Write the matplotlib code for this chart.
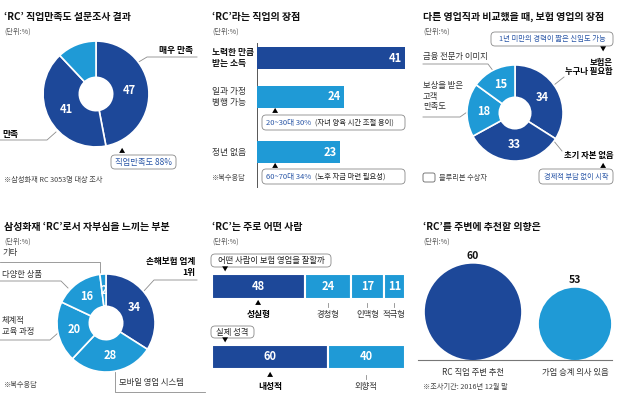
import numpy as np
import matplotlib
matplotlib.use('Agg')
import matplotlib.pyplot as plt
from matplotlib.patches import FancyBboxPatch, Circle

plt.rcParams['font.family'] = ['Noto Sans CJK KR', 'DejaVu Sans']

DARK = '#1d4899'
LIGHT = '#1f9ad6'
BLUE_TXT = '#2b57a7'
LINE = '#8c8c8c'

# 직업만족도
sat_values = [47, 41, 12]
# 직업의 장점
merit_labels = ['노력한 만큼\n받는 소득', '일과 가정\n병행 가능', '정년 없음']
merit_values = [41, 24, 23]
# 보험 영업의 장점
ins_labels = ['보험은\n누구나 필요함', '초기 자본 없음', '보상을 받은\n고객\n만족도', '금융 전문가 이미지']
ins_values = [34, 33, 18, 15]
# 자부심
pride_labels = ['손해보험 업계\n1위', '모바일 영업 시스템', '체계적\n교육 과정', '다양한 상품', '기타']
pride_values = [34, 28, 20, 16, 2]
# 어떤 사람
type_labels = ['성실형', '경청형', '인맥형', '적극형']
type_values = [48, 24, 17, 11]
pers_labels = ['내성적', '외향적']
pers_values = [60, 40]
# 추천 의향
rec_labels = ['RC 직업 주변 추천', '가업 승계 의사 있음']
rec_values = [60, 53]

W, H = 620, 400
fig = plt.figure(figsize=(6.2, 4.0), dpi=100)
bg = fig.add_axes([0, 0, 1, 1])
bg.set_xlim(0, W)
bg.set_ylim(H, 0)
bg.axis('off')


def px_axes(x0, y0, w, h):
    ax = fig.add_axes([x0 / W, 1 - (y0 + h) / H, w / W, h / H])
    ax.axis('off')
    return ax


def txt(x, y, s, size=6, **kw):
    kw.setdefault('va', 'center')
    bg.text(x, y, s, fontsize=size, **kw)


def leader(pts):
    xs, ys = zip(*pts)
    bg.plot(xs, ys, color=LINE, lw=0.6)


def rbox(x0, y0, w, h):
    bg.add_patch(FancyBboxPatch((x0, y0), w, h, boxstyle='round,pad=0,rounding_size=4',
                                fc='white', ec='#8a8a8a', lw=0.6))


def title(x, y, s):
    txt(x, y, s, size=7.2, fontweight='bold', color='#111111')
    txt(x, y + 15, '(단위:%)', size=5.2, color='#555555')


def donut(cx, cy, r, rin, values, colors, show, dist):
    ax = px_axes(cx - r, cy - r, 2 * r, 2 * r)
    wedges, _ = ax.pie(values, colors=colors, startangle=90, counterclock=False,
                       wedgeprops=dict(width=(r - rin) / r, edgecolor='white', linewidth=1.2))
    ax.set_xlim(-1.02, 1.02)
    ax.set_ylim(-1.02, 1.02)
    for w, v, s in zip(wedges, values, show):
        if not s:
            continue
        a = np.deg2rad((w.theta1 + w.theta2) / 2)
        ax.text(dist * np.cos(a), dist * np.sin(a), str(v), color='white', fontsize=8,
                fontweight='bold', ha='center', va='center')
    return ax


# ---------- 1. 직업만족도 ----------
title(4, 17, '‘RC’ 직업만족도 설문조사 결과')
donut(96, 94, 54, 17, sat_values, [DARK, DARK, LIGHT], [True, True, False], 0.63)
leader([(137, 63), (147, 57), (197, 57)])
txt(193, 51, '매우 만족', size=6.3, fontweight='bold', ha='right')
leader([(56, 132), (47, 140), (0, 140)])
txt(2, 134, '만족', size=6.3, fontweight='bold')
txt(122, 151, '▲', size=4.5, ha='center')
rbox(111, 155, 65, 14)
txt(143.5, 162, '직업만족도 88%', size=6, color=BLUE_TXT, ha='center')
txt(4, 180, '※삼성화재 RC 3053명 대상 조사', size=5.2, color='#444444')

# ---------- 2. 직업의 장점 ----------
title(212, 17, '‘RC’라는 직업의 장점')
bar_rows = [58, 97, 152]
ax2 = px_axes(257, 40, 148, 150)
ax2.set_xlim(0, max(merit_values))
ax2.set_ylim(190, 40)
ax2.barh(bar_rows, merit_values, height=22, color=[DARK, LIGHT, LIGHT])
for row, v in zip(bar_rows, merit_values):
    ax2.text(v - 0.8, row, str(v), ha='right', va='center', color='white',
             fontsize=8, fontweight='bold')
bg.plot([257, 257], [43, 187], color='#555555', lw=0.7)
for row, lab, bold in zip(bar_rows, merit_labels, [True, False, False]):
    txt(212, row, lab, size=6.3, fontweight='bold' if bold else 'normal',
        linespacing=1.15, color='#111111' if bold else '#333333')
txt(275, 111, '▲', size=4.5, ha='center')
rbox(262, 115, 143, 15)
txt(266, 122.5, '20~30대 30%', size=5.5, color=BLUE_TXT)
txt(315, 122.5, '(자녀 양육 시간 조절 용이)', size=5.3, color='#222222')
txt(275, 166, '▲', size=4.5, ha='center')
rbox(262, 169, 143, 15)
txt(266, 176.5, '60~70대 34%', size=5.5, color=BLUE_TXT)
txt(315, 176.5, '(노후 자금 마련 필요성)', size=5.3, color='#222222')
txt(212, 178, '※복수응답', size=5.2, color='#444444')

# ---------- 3. 보험 영업의 장점 ----------
title(423, 17, '다른 영업직과 비교했을 때, 보험 영업의 장점')
donut(515, 113, 49, 16, ins_values, [DARK, DARK, LIGHT, LIGHT], [True] * 4, 0.66)
rbox(491, 32, 122, 14)
txt(552, 39, '1년 미만의 경력이 짧은 신입도 가능', size=5.3, color=BLUE_TXT, ha='center')
txt(603, 50, '▼', size=4.5, ha='center')
txt(613, 67, ins_labels[0], size=6, fontweight='bold', ha='right', linespacing=1.1)
leader([(554, 85), (564, 77)])
txt(613, 155, ins_labels[1], size=6, fontweight='bold', ha='right')
leader([(553, 140), (562, 151)])
txt(603, 166, '▲', size=4.5, ha='center')
rbox(539, 169, 74, 15)
txt(576, 176.5, '경제적 부담 없이 시작', size=5.2, color=BLUE_TXT, ha='center')
txt(423, 57, ins_labels[3], size=6, color='#333333')
leader([(423, 64), (488, 64), (494, 72)])
txt(423, 96, ins_labels[2], size=6, color='#333333', linespacing=1.15)
leader([(423, 117), (460, 117), (470, 110)])
bg.add_patch(FancyBboxPatch((423, 173), 12, 9, boxstyle='round,pad=0,rounding_size=2',
                            fc='white', ec='#666666', lw=0.6))
txt(439, 178, '블루리본 수상자', size=5.2, color='#444444')

# ---------- 4. 자부심 ----------
title(4, 227, '삼성화재 ‘RC’로서 자부심을 느끼는 부분')
donut(106, 323, 50, 17, pride_values, [DARK, LIGHT, LIGHT, LIGHT, LIGHT], [True] * 5, 0.66)
txt(2, 253, pride_labels[4], size=6, color='#333333')
leader([(0, 262), (100, 262), (100, 276)])
txt(2, 274, pride_labels[3], size=6, color='#333333')
leader([(0, 281), (61, 281), (68, 288)])
txt(2, 326, pride_labels[2], size=6, color='#333333', linespacing=1.2)
leader([(0, 340), (50, 340), (58, 333)])
txt(195, 267, pride_labels[0], size=6.2, fontweight='bold', ha='right', linespacing=1.15)
leader([(143, 292), (154, 280), (197, 280)])
txt(119, 383, pride_labels[1], size=6, color='#333333')
leader([(115, 372), (115, 392), (205, 392)])
txt(4, 385, '※복수응답', size=5.2, color='#444444')

# ---------- 5. 어떤 사람 ----------
title(212, 227, '‘RC’는 주로 어떤 사람')
ax5 = px_axes(212, 250, 193, 145)
ax5.set_xlim(0, 100)
ax5.set_ylim(395, 250)


def stacked(row, height, values, labels, label_y):
    left = 0
    for i, (v, lab) in enumerate(zip(values, labels)):
        ax5.barh(row, v, left=left, height=height, color=DARK if i == 0 else LIGHT,
                 edgecolor='white', linewidth=1.5)
        c = left + v / 2
        ax5.text(c, row, str(v), ha='center', va='center', color='white',
                 fontsize=8, fontweight='bold')
        if i == 0:
            ax5.text(c, label_y - 11, '▲', fontsize=4.5, ha='center', va='center')
            ax5.text(c, label_y, lab, fontsize=6.3, fontweight='bold', ha='center', va='center')
        else:
            ax5.plot([c, c], [label_y - 11, label_y - 7], color=LINE, lw=0.6)
            ax5.text(c, label_y, lab, fontsize=6, color='#333333', ha='center', va='center')
        left += v


rbox(211, 254, 120, 13)
txt(271, 260.5, '어떤 사람이 보험 영업을 잘할까', size=6, ha='center', color='#222222')
txt(225, 270, '▼', size=4.5, ha='center')
stacked(286.5, 25, type_values, type_labels, 314)
rbox(211, 326, 43, 12)
txt(232.5, 332, '실제 성격', size=6, ha='center', color='#222222')
txt(225, 341, '▼', size=4.5, ha='center')
stacked(357, 24, pers_values, pers_labels, 386)

# ---------- 6. 추천 의향 ----------
title(423, 227, '‘RC’를 주변에 추천할 의향은')
circle_x = [473, 575]
base_y = 360
ax6 = px_axes(418, 240, 194, 140)
ax6.set_xlim(418, 612)
ax6.set_ylim(380, 240)
for x, v, lab, col in zip(circle_x, rec_values, rec_labels, [DARK, LIGHT]):
    r = (v - 32) * 1.72
    ax6.add_patch(Circle((x, base_y - r), r, color=col, lw=0))
    ax6.text(x, base_y - 2 * r - 8, str(v), ha='center', va='center', fontsize=7.5,
             fontweight='bold', color='#111111')
    ax6.text(x, base_y + 12, lab, ha='center', va='center', fontsize=6, color='#333333')
bg.plot([418, 612], [base_y, base_y], color='#777777', lw=0.8)
txt(423, 387, '※조사기간: 2016년 12월 말', size=5.2, color='#444444')

fig.savefig('out.png', dpi=100)
